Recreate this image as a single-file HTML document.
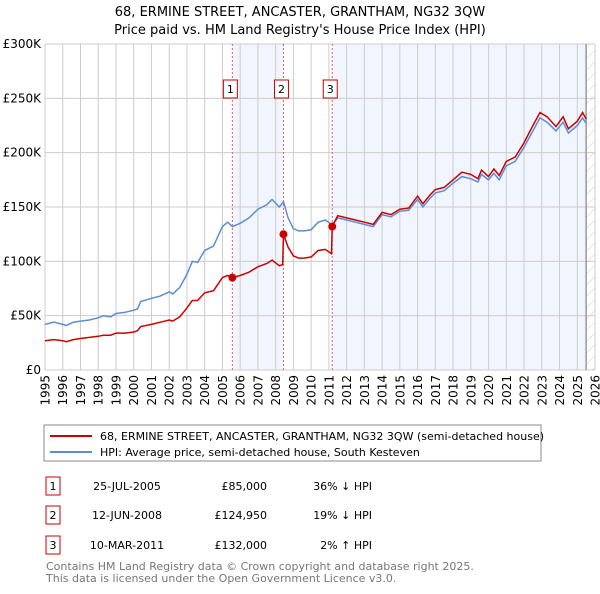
<!DOCTYPE html>
<html><head><meta charset="utf-8"><style>
body{margin:0;background:#fff;font-family:"DejaVu Sans","Liberation Sans",sans-serif;}
svg text{font-family:"DejaVu Sans","Liberation Sans",sans-serif;}
</style></head><body>
<svg id="chart" width="600" height="590" xmlns="http://www.w3.org/2000/svg">
<defs><pattern id="hatch" width="8" height="8" patternUnits="userSpaceOnUse" patternTransform="rotate(45)"><line x1="0" y1="0" x2="0" y2="8" stroke="#ccc" stroke-width="1"/></pattern></defs>
<text x="300" y="16" text-anchor="middle" font-size="13">68, ERMINE STREET, ANCASTER, GRANTHAM, NG32 3QW</text>
<text x="300" y="34" text-anchor="middle" font-size="13">Price paid vs. HM Land Registry's House Price Index (HPI)</text>
<g id="plot"></g>
<rect x="44" y="425" width="497" height="36" fill="#fff" stroke="#888"/>
<line x1="50" y1="436" x2="92" y2="436" stroke="#cc0000" stroke-width="2"/>
<text x="100" y="440" font-size="11">68, ERMINE STREET, ANCASTER, GRANTHAM, NG32 3QW (semi-detached house)</text>
<line x1="50" y1="452" x2="92" y2="452" stroke="#5b8dd6" stroke-width="2"/>
<text x="100" y="456" font-size="11">HPI: Average price, semi-detached house, South Kesteven</text>
<g font-size="11">
<rect x="46" y="477" width="14" height="18" fill="#fff" stroke="#cc0000"/><text x="53" y="490" text-anchor="middle">1</text>
<text x="127" y="490" text-anchor="middle">25-JUL-2005</text><text x="267" y="490" text-anchor="end">£85,000</text><text x="372" y="490" text-anchor="end">36% ↓ HPI</text>
<rect x="46" y="506" width="14" height="18" fill="#fff" stroke="#cc0000"/><text x="53" y="519" text-anchor="middle">2</text>
<text x="127" y="519" text-anchor="middle">12-JUN-2008</text><text x="267" y="519" text-anchor="end">£124,950</text><text x="372" y="519" text-anchor="end">19% ↓ HPI</text>
<rect x="46" y="536" width="14" height="18" fill="#fff" stroke="#cc0000"/><text x="53" y="549" text-anchor="middle">3</text>
<text x="127" y="549" text-anchor="middle">10-MAR-2011</text><text x="267" y="549" text-anchor="end">£132,000</text><text x="372" y="549" text-anchor="end">2% ↑ HPI</text>
</g>
<text x="46" y="570" font-size="11" fill="#777">Contains HM Land Registry data © Crown copyright and database right 2025.</text>
<text x="46" y="582" font-size="11" fill="#777">This data is licensed under the Open Government Licence v3.0.</text>
</svg>
<script>
const t=[1995,1995.5,1996,1996.2,1996.6,1997,1997.5,1998,1998.3,1998.7,1999,1999.5,2000,2000.2,2000.4,2001,2001.5,2002,2002.2,2002.6,2003,2003.3,2003.6,2004,2004.5,2005,2005.3,2005.56,2006,2006.5,2007,2007.5,2007.8,2008.2,2008.4,2008.44,2008.7,2009,2009.3,2009.6,2010,2010.4,2010.8,2011.15,2011.19,2011.5,2012,2012.5,2013,2013.5,2014,2014.5,2015,2015.5,2016,2016.3,2016.7,2017,2017.5,2018,2018.5,2019,2019.4,2019.6,2020,2020.3,2020.6,2021,2021.5,2022,2022.5,2022.9,2023.3,2023.8,2024.2,2024.5,2025,2025.3,2025.5];
const hpi=[42,44,42,41,44,45,46,48,50,49,52,53,55,56,63,66,68,72,70,76,88,100,99,110,114,132,136,132,135,140,148,152,157,150,154,155,140,130,128,128,129,136,138,134,133,140,138,136,134,132,143,141,146,147,157,150,158,163,165,172,178,176,173,180,175,181,175,188,192,205,220,232,228,220,228,218,225,232,227];
const paid=[27,28,27,26,28,29,30,31,32,32,34,34,35,36,40,42,44,46,45,49,57,64,64,71,73,85,87,85,87,90,95,98,101,96,97,124.95,113,105,103,103,104,110,111,107,132,142,140,138,136,134,145,143,148,149,160,153,161,166,168,175,182,180,176,184,178,185,179,192,196,209,225,237,233,224,233,222,229,237,231];
const sales=[[2005.56,85],[2008.44,124.95],[2011.19,132]];
const yTicks=[0,50,100,150,200,250,300];
const yLabels=["£0","£50K","£100K","£150K","£200K","£250K","£300K"];
const years=[];for(let y=1995;y<=2026;y++)years.push(y);
const L=45,R=595,T=44,B=370;
const X=v=>L+(v-1995)*(R-L)/31, Y=v=>B-v*(B-T)/300;
const NS="http://www.w3.org/2000/svg",g=document.getElementById('plot');
function mk(tag,a){const e=document.createElementNS(NS,tag);for(const k in a)e.setAttribute(k,a[k]);g.appendChild(e);return e;}
let e;
e=mk('rect',{x:X(sales[0][0]),y:T,width:X(sales[1][0])-X(sales[0][0]),height:B-T,fill:'#eef3fc',opacity:0.8});


e=mk('rect',{x:X(sales[2][0]),y:T,width:X(2025.5)-X(sales[2][0]),height:B-T,fill:'#eef3fc',opacity:0.8});


e=mk('rect',{x:X(2025.5),y:T,width:R-X(2025.5),height:B-T,fill:'url(#hatch)'});


years.forEach(y=>{
 e=mk('line',{x1:X(y),x2:X(y),y1:T,y2:B,stroke:'#ccc'});
 
 
 const lx=X(y)+4.5,ly=B+5;
 e=mk('text',{x:lx,y:ly,'text-anchor':'end','font-size':12,transform:'rotate(-90 '+lx+' '+ly+')'});e.textContent=y;
 
 
});
yTicks.forEach((v,i)=>{
 e=mk('line',{x1:L,x2:R,y1:Y(v),y2:Y(v),stroke:'#ccc'});
 
 
 e=mk('text',{x:L-4,y:Y(v)+4,'text-anchor':'end','font-size':12});e.textContent=yLabels[i];
 
 
});
e=mk('line',{x1:X(2025.5),x2:X(2025.5),y1:T,y2:B,stroke:'#999','stroke-width':1.5});


sales.forEach((s,i)=>{
 e=mk('line',{x1:X(s[0]),x2:X(s[0]),y1:T,y2:B,stroke:'#e06060','stroke-dasharray':'2,2'});
 
 
});
const pts=a=>t.map((v,i)=>X(v).toFixed(1)+','+Y(a[i]).toFixed(1)).join(' ');
e=mk('polyline',{points:pts(hpi),fill:'none',stroke:'#5b8dd6','stroke-width':1.5});


e=mk('polyline',{points:pts(paid),fill:'none',stroke:'#cc0000','stroke-width':1.5});


sales.forEach((s,i)=>{
 e=mk('circle',{cx:X(s[0]),cy:Y(s[1]),r:4,fill:'#cc0000'});
 
 
 e=mk('rect',{x:X(s[0])-9,y:80,width:14,height:18,fill:'#fff',stroke:'#cc0000'});
 
 
 e=mk('text',{x:X(s[0])-2,y:93,'text-anchor':'middle','font-size':11});e.textContent=i+1;
 
 
});
</script>
</body></html>
